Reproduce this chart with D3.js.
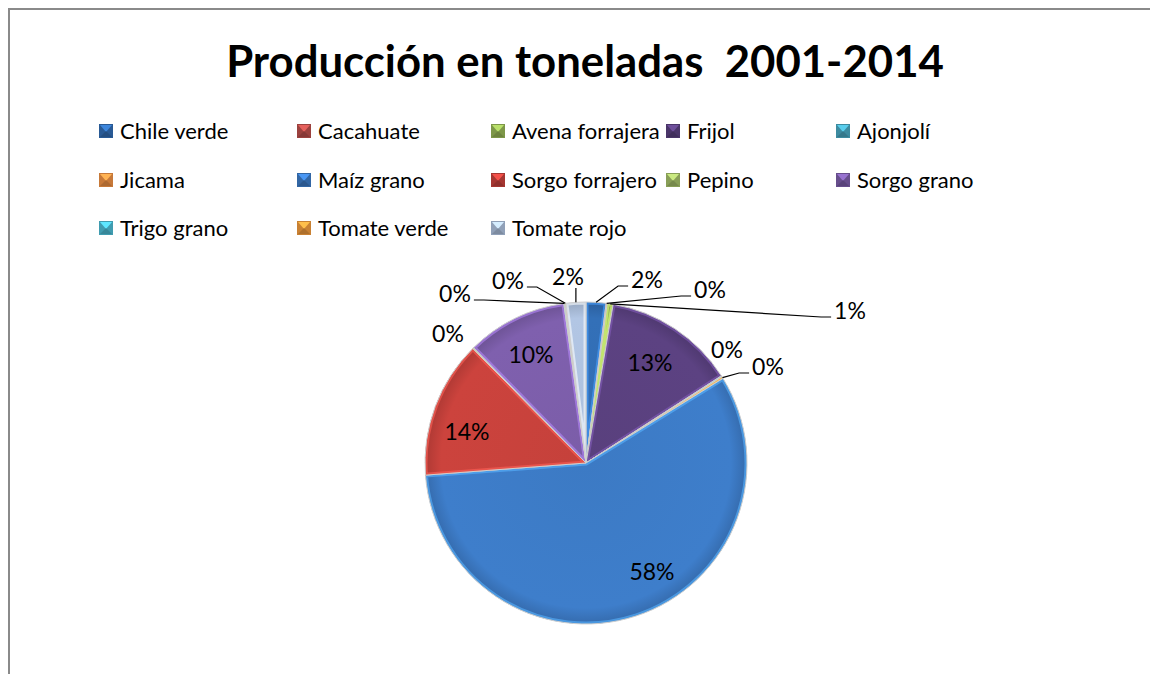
<!DOCTYPE html>
<html>
<head>
<meta charset="utf-8">
<script src="https://cdn.jsdelivr.net/npm/d3@7"></script>
<style>
  html, body { margin: 0; padding: 0; background: #fff; overflow: hidden; }
  svg { display: block; }
  text { font-family: Lato, "Open Sans", sans-serif; fill: #000; }
</style>
</head>
<body>
<svg id="chart" width="1150" height="674"></svg>
<script>
// crops, in pie order (clockwise from 12 o'clock)
const categories = ["Chile verde", "Cacahuate", "Avena forrajera", "Frijol", "Ajonjolí",
  "Jicama", "Maíz grano", "Sorgo forrajero", "Pepino", "Sorgo grano",
  "Trigo grano", "Tomate verde", "Tomate rojo"];
// share of production (%)
const shares = [2.0, 0.1, 0.6, 13.2, 0.1, 0.2, 57.6, 13.8, 0.1, 10.1, 0.1, 0.1, 2.0];
const sliceColors = ["#3370b8", "#c0504d", "#9bbb59", "#5c4282", "#4bacc6",
  "#f79646", "#3e7ecb", "#cc433d", "#a9c46c", "#7f60ae",
  "#4fc1da", "#f9a03f", "#b2c6e4"];
const title = "Producción en toneladas  2001-2014";

const data = categories.map((c, i) => ({ name: c, value: shares[i], color: sliceColors[i] }));

// label placement relative to the pie centre (Excel put them by hand)
const labelOffsets = {
  "Chile verde": [61, -183], "Cacahuate": [124, -173], "Avena forrajera": [264, -152],
  "Frijol": [64, -100], "Ajonjolí": [141, -113], "Jicama": [182, -96],
  "Maíz grano": [66, 109], "Sorgo forrajero": [-119, -31], "Pepino": [-138, -129],
  "Sorgo grano": [-55, -108], "Trigo grano": [-131, -169], "Tomate verde": [-78, -182],
  "Tomate rojo": [-18, -186]
};
const withLeader = new Set(["Chile verde", "Cacahuate", "Avena forrajera", "Jicama",
  "Trigo grano", "Tomate verde", "Tomate rojo"]);

const legendCols = [99, 297, 491, 666, 836];
const legendRows = [131, 180, 228];

const svg = d3.select("#chart");
const defs = svg.append("defs");

// frame (only top and left edges show)
svg.append("rect")
    .attr("x", 9).attr("y", 9)
    .attr("width", 1200).attr("height", 700)
    .attr("fill", "none")
    .attr("stroke", "#8a8a8a")
    .attr("stroke-width", 2);

// title, fitted to the width it has in the reference
const titleText = svg.append("text")
    .attr("x", 585).attr("y", 77)
    .attr("text-anchor", "middle")
    .style("font-weight", "bold")
    .style("font-size", "40px")
    .style("white-space", "pre")
    .text(title);
const tw = titleText.node().getComputedTextLength();
titleText.style("font-size", (40 * 718 / tw) + "px");

// legend
const legend = svg.append("g");
data.forEach((d, i) => {
  const x = legendCols[i % 5], y = legendRows[Math.floor(i / 5)];
  const c = d3.color(d.color);
  const g = legend.append("g").attr("transform", `translate(${x},${y})`);
  g.append("rect")
      .attr("x", 0).attr("y", -7).attr("width", 14).attr("height", 14)
      .attr("fill", c.darker(0.6));
  g.append("path")
      .attr("d", "M1,-6L13,-6L7,1Z")
      .attr("fill", c.brighter(0.5));
  g.append("path")
      .attr("d", "M1,6L13,6L7,0Z")
      .attr("fill", c.darker(1));
  g.append("text")
      .attr("x", 21).attr("y", 8)
      .style("font-size", "22px")
      .text(d.name);
});

// pie
const cx = 586, cy = 463, radius = 161;
const pie = d3.pie().sort(null).value(d => d.value);
const arc = d3.arc().innerRadius(0).outerRadius(radius);
const rimArc = d3.arc().innerRadius(radius).outerRadius(radius);
const arcs = pie(data);

const pieG = svg.append("g").attr("transform", `translate(${cx},${cy})`);

arcs.forEach((a, i) => {
  const id = "clip" + i;
  defs.append("clipPath").attr("id", id).append("path").attr("d", arc(a));
  const c = d3.color(a.data.color);
  const grad = defs.append("radialGradient")
      .attr("id", "grad" + i)
      .attr("gradientUnits", "userSpaceOnUse")
      .attr("cx", 0).attr("cy", 0).attr("r", radius);
  grad.append("stop").attr("offset", "0%").attr("stop-color", c.darker(0.1));
  grad.append("stop").attr("offset", "90%").attr("stop-color", c);
  grad.append("stop").attr("offset", "100%").attr("stop-color", c.darker(0.45));

  const sg = pieG.append("g");
  sg.append("path")
      .attr("d", arc(a))
      .attr("fill", `url(#grad${i})`);
  // bevel highlight along the edges
  sg.append("path")
      .attr("d", arc(a))
      .attr("clip-path", `url(#${id})`)
      .attr("fill", "none")
      .attr("stroke", c.brighter(1))
      .attr("stroke-opacity", 0.6)
      .attr("stroke-width", 5);
  sg.append("path")
      .attr("d", arc(a))
      .attr("fill", "none")
      .attr("stroke", "#cfcfcf")
      .attr("stroke-width", 1);
});

// data labels
const fmt = v => Math.round(v) + "%";
const labelG = svg.append("g").attr("transform", `translate(${cx},${cy})`);
arcs.forEach(a => {
  const name = a.data.name;
  const [lx, ly] = labelOffsets[name];
  const t = labelG.append("text")
      .attr("x", lx).attr("y", ly + 8)
      .attr("text-anchor", "middle")
      .style("font-size", "23px")
      .text(fmt(a.data.value));
  if (withLeader.has(name)) {
    const w = t.node().getComputedTextLength() / 2;
    const s = rimArc.centroid(a);
    let pts;
    if (Math.abs(lx - s[0]) < w) {
      pts = [s, [s[0], ly + 11]];
    } else {
      const side = Math.sign(lx - s[0]);
      const end = [lx - side * (w + 3), ly + 6];
      const knee = [end[0] - side * 10, end[1]];
      pts = [s, knee, end];
    }
    labelG.append("path")
        .attr("d", d3.line()(pts))
        .attr("fill", "none")
        .attr("stroke", "#000")
        .attr("stroke-width", 1.2);
  }
});
</script>
</body>
</html>
